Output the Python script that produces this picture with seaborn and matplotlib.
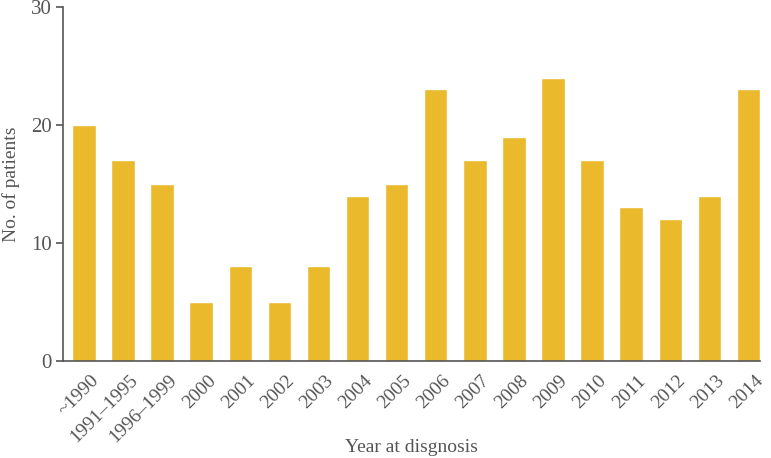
import pandas as pd
import matplotlib
matplotlib.use("Agg")
import matplotlib.pyplot as plt
import matplotlib.transforms as mtransforms
import seaborn as sns

# Data
years = ["~1990", "1991\u20131995", "1996\u20131999", "2000", "2001", "2002", "2003",
         "2004", "2005", "2006", "2007", "2008", "2009", "2010", "2011", "2012",
         "2013", "2014"]
patients = [20, 17, 15, 5, 8, 5, 8, 14, 15, 23, 17, 19, 24, 17, 13, 12, 14, 23]

df = pd.DataFrame({"year": years, "patients": patients})

sns.set_style("white")
plt.rcParams["font.family"] = ["Liberation Serif", "DejaVu Serif"]
grey = "#555555"

fig = plt.figure(figsize=(7.71, 4.58), dpi=100)
ax = fig.add_axes([0.082, 0.212, 0.904, 0.773])

sns.barplot(data=df, x="year", y="patients", color="#EBB92C", width=0.6,
            saturation=1, ax=ax)

ax.set_ylim(0, 30)
ax.set_xlim(-0.53, len(years) - 0.7)
ax.set_yticks([0, 10, 20, 30])
ax.tick_params(axis="y", direction="out", length=5, width=1.2, colors=grey,
               labelsize=15, left=True, pad=3)
ax.tick_params(axis="x", length=0, colors=grey, labelsize=14, pad=8)

# rotated labels, nudged right so they end just past the bar centre
offset = mtransforms.ScaledTranslation(0.06, 0, fig.dpi_scale_trans)
for lab in ax.get_xticklabels():
    lab.set_rotation(45)
    lab.set_ha("right")
    lab.set_rotation_mode("anchor")
    lab.set_transform(lab.get_transform() + offset)

for s in ["top", "right"]:
    ax.spines[s].set_visible(False)
for s in ["left", "bottom"]:
    ax.spines[s].set_color(grey)
    ax.spines[s].set_linewidth(1.2)

ax.set_xlabel("Year at disgnosis", fontsize=14, color=grey)
ax.set_ylabel("No. of patients", fontsize=14, color=grey)
ax.xaxis.set_label_coords(0.5, -0.222)
ax.yaxis.set_label_coords(-0.062, 0.5)

fig.savefig("out.png", dpi=100)
